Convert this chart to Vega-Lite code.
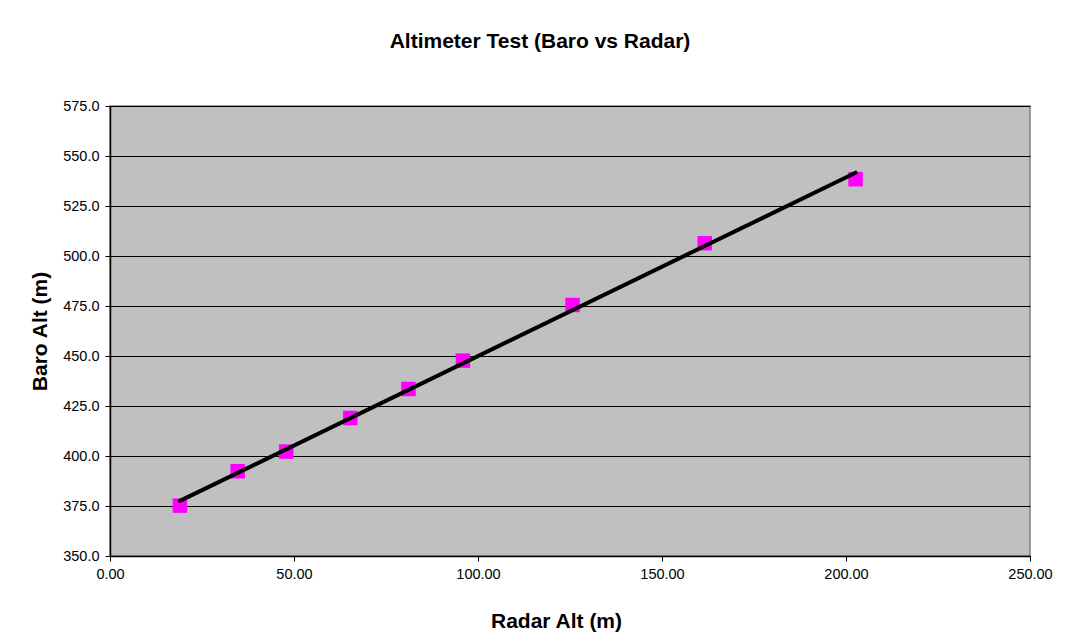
{
  "$schema": "https://vega.github.io/schema/vega-lite/v6.json",
  "autosize": {"type": "none"},
  "width": 920,
  "height": 450,
  "padding": {"left": 110, "top": 106, "right": 36, "bottom": 88},
  "background": "white",
  "config": {
    "font": "Liberation Sans",
    "view": {"fill": "#C0C0C0", "stroke": "#808080", "strokeWidth": 1.5}
  },
  "title": {
    "text": "Altimeter Test (Baro vs Radar)",
    "font": "Liberation Sans",
    "fontSize": 21,
    "fontWeight": "bold",
    "color": "black",
    "anchor": "middle",
    "baseline": "alphabetic",
    "dx": -30,
    "offset": 29
  },
  "data": {
    "values": [
      {"radar": 19.0, "baro": 375.2},
      {"radar": 34.7, "baro": 392.4},
      {"radar": 47.9, "baro": 402.2},
      {"radar": 65.3, "baro": 419.0},
      {"radar": 81.1, "baro": 433.5},
      {"radar": 95.9, "baro": 447.7},
      {"radar": 125.7, "baro": 475.5},
      {"radar": 161.6, "baro": 506.4},
      {"radar": 202.6, "baro": 538.4}
    ]
  },
  "layer": [
    {
      "mark": {"type": "square", "size": 210, "color": "#FF00FF", "opacity": 1, "filled": true},
      "encoding": {
        "x": {
          "field": "radar", "type": "quantitative",
          "scale": {"domain": [0, 250], "nice": false, "zero": false},
          "axis": {
            "title": "Radar Alt (m)",
            "values": [0, 50, 100, 150, 200, 250],
            "format": ".2f",
            "grid": false,
            "labelFlush": false,
            "labelOverlap": false,
            "domainColor": "black",
            "domainWidth": 1.5,
            "tickColor": "black",
            "tickSize": 5,
            "labelFontSize": 14.5,
            "labelColor": "black",
            "labelPadding": 6,
            "titleFontSize": 21,
            "titleFontWeight": "bold",
            "titleColor": "black",
            "titleX": 446,
            "titleY": 71,
            "titleBaseline": "alphabetic",
            "titleAlign": "center"
          }
        },
        "y": {
          "field": "baro", "type": "quantitative",
          "scale": {"domain": [350, 575], "nice": false, "zero": false},
          "axis": {
            "title": "Baro Alt (m)",
            "values": [350, 375, 400, 425, 450, 475, 500, 525, 550, 575],
            "format": ".1f",
            "grid": true,
            "labelOverlap": false,
            "gridColor": "black",
            "gridWidth": 1,
            "gridOpacity": 1,
            "domainColor": "black",
            "domainWidth": 1.5,
            "tickColor": "black",
            "tickSize": 5,
            "labelFontSize": 14.5,
            "labelColor": "black",
            "labelPadding": 6,
            "titleFontSize": 21,
            "titleFontWeight": "bold",
            "titleColor": "black",
            "titleAngle": -90,
            "titleX": -70,
            "titleY": 225,
            "titleBaseline": "middle",
            "titleAlign": "center"
          }
        }
      }
    },
    {
      "transform": [{"regression": "baro", "on": "radar"}],
      "mark": {"type": "line", "color": "black", "strokeWidth": 4, "strokeCap": "round"},
      "encoding": {
        "x": {"field": "radar", "type": "quantitative"},
        "y": {"field": "baro", "type": "quantitative"}
      }
    }
  ]
}
